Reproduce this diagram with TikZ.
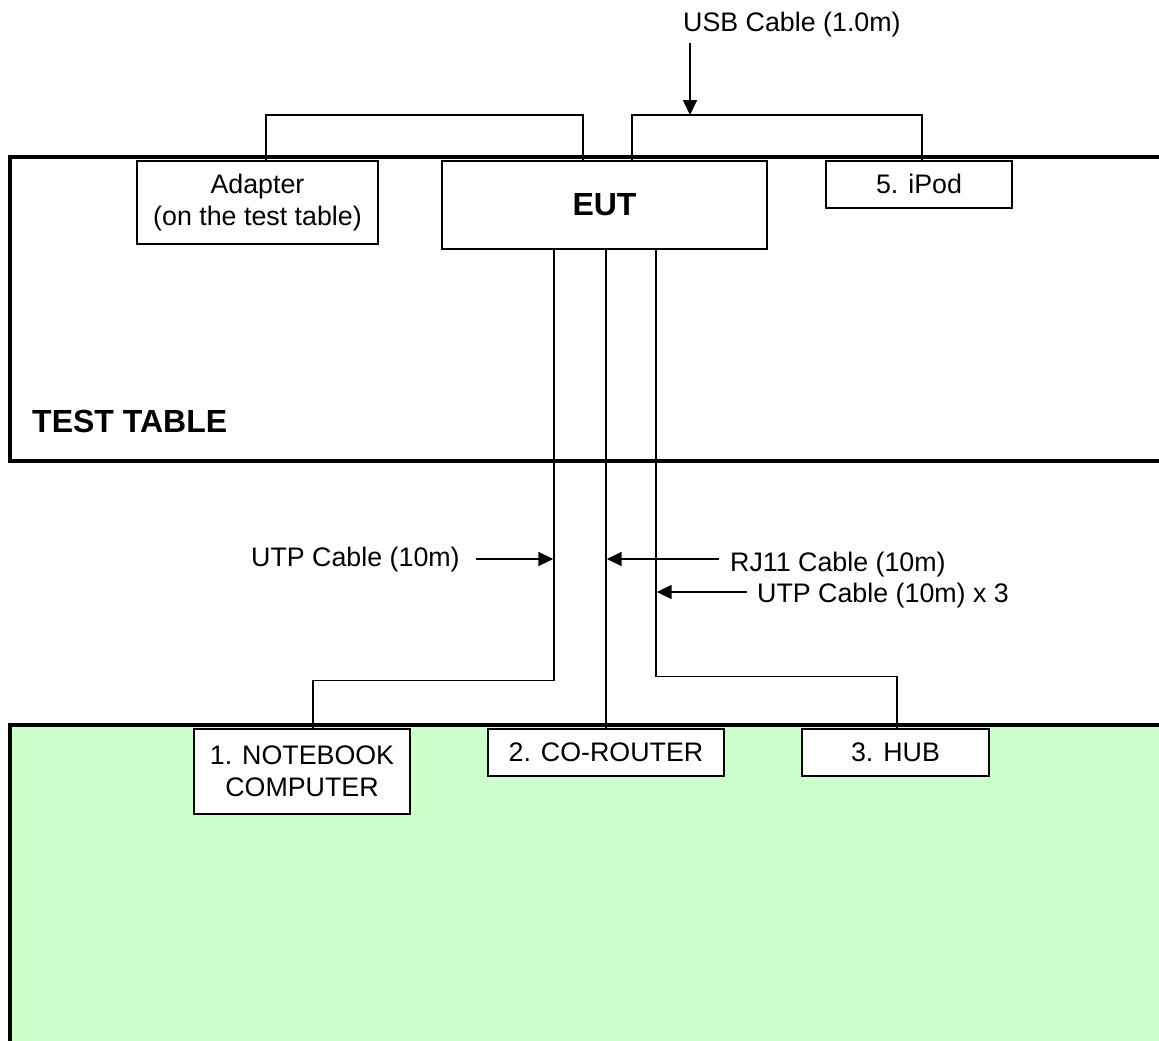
\documentclass[tikz,border=0pt]{standalone}
\usepackage{fontspec}
\setmainfont{Liberation Sans}
\usetikzlibrary{arrows.meta}
\definecolor{floorgreen}{HTML}{CCFFCC}

\begin{document}
\begin{tikzpicture}[x=1pt,y=-1pt,
  every node/.style={inner sep=0pt,font=\fontsize{26.8}{32}\selectfont},
  box/.style={draw,fill=white,line width=1.6pt,align=center,anchor=north},
  bigbold/.style={font=\fontsize{32}{38}\selectfont\bfseries},
  tableline/.style={line width=4pt},
  cable/.style={line width=1.4pt},
  pointer/.style={line width=1.7pt,-{Triangle[length=15pt,width=14pt]}}]
\useasboundingbox (0,0) rectangle (1159,1041);
\fill[white] (0,0) rectangle (1159,1041);
\fill[floorgreen] (10,725) rectangle (1159,1041);
\draw[tableline] (1159,157) -- (10,157) -- (10,461) -- (1159,461);
\draw[tableline] (1159,725) -- (10,725) -- (10,1043);

\node[anchor=base west,bigbold] (testtable) at (32,432) {TEST TABLE};

\node[box,minimum width=241pt,minimum height=83pt] (adapter) at (257.5,160) {Adapter\\(on the test table)};
\node[box,minimum width=325pt,minimum height=88pt,bigbold] (eut) at (604.5,160) {EUT};
\node[box,minimum width=186pt,minimum height=47pt] (ipod) at (919,160) {5. iPod};
\node[box,minimum width=216pt,minimum height=85pt] (notebook) at (302,728) {1. NOTEBOOK\\COMPUTER};
\node[box,minimum width=236pt,minimum height=47pt] (corouter) at (606,728) {2. CO-ROUTER};
\node[box,minimum width=187pt,minimum height=47pt] (hub) at (895.5,728) {3. HUB};

\node[anchor=base west] (usb) at (683,32) {USB Cable (1.0m)};
\node[anchor=base west] (utpA) at (251,566) {UTP Cable (10m)};
\node[anchor=base west] (rjB) at (730,571) {RJ11 Cable (10m)};
\node[anchor=base west] (utpC) at (757,602) {UTP Cable (10m) x 3};

\coordinate (cableA) at ([xshift=-50.5pt]eut.south);
\coordinate (cableB) at (corouter.north |- eut.south);
\coordinate (cableC) at ([xshift=51.5pt]eut.south);

\draw[cable] ([xshift=8.5pt]adapter.north) -- ++(0,-45) -| ([xshift=-21.5pt]eut.north);
\draw[cable] ([xshift=27.5pt]eut.north) -- ++(0,-45) coordinate (usbcable) -| ([xshift=3pt]ipod.north);
\draw[cable] (cableA) -- ++(0,431) -| ([xshift=11pt]notebook.north);
\draw[cable] (cableB) -- (corouter.north);
\draw[cable] (cableC) -- ++(0,427) -| ([xshift=1.5pt]hub.north);

\coordinate (usbend) at ([xshift=7pt,yshift=-11pt]usb.base west);
\coordinate (utpAend) at ([xshift=16pt,yshift=7pt]utpA.base east);
\coordinate (rjBend) at ([xshift=-11pt,yshift=12pt]rjB.base west);
\coordinate (utpCend) at ([xshift=-10pt,yshift=10pt]utpC.base west);

\draw[pointer] (usbend) -- (usbend |- usbcable);
\draw[pointer,shorten >=0.7pt] (utpAend) -- (utpAend -| cableA);
\draw[pointer,shorten >=0.7pt] (rjBend) -- (rjBend -| cableB);
\draw[pointer,shorten >=0.7pt] (utpCend) -- (utpCend -| cableC);
\end{tikzpicture}
\end{document}
